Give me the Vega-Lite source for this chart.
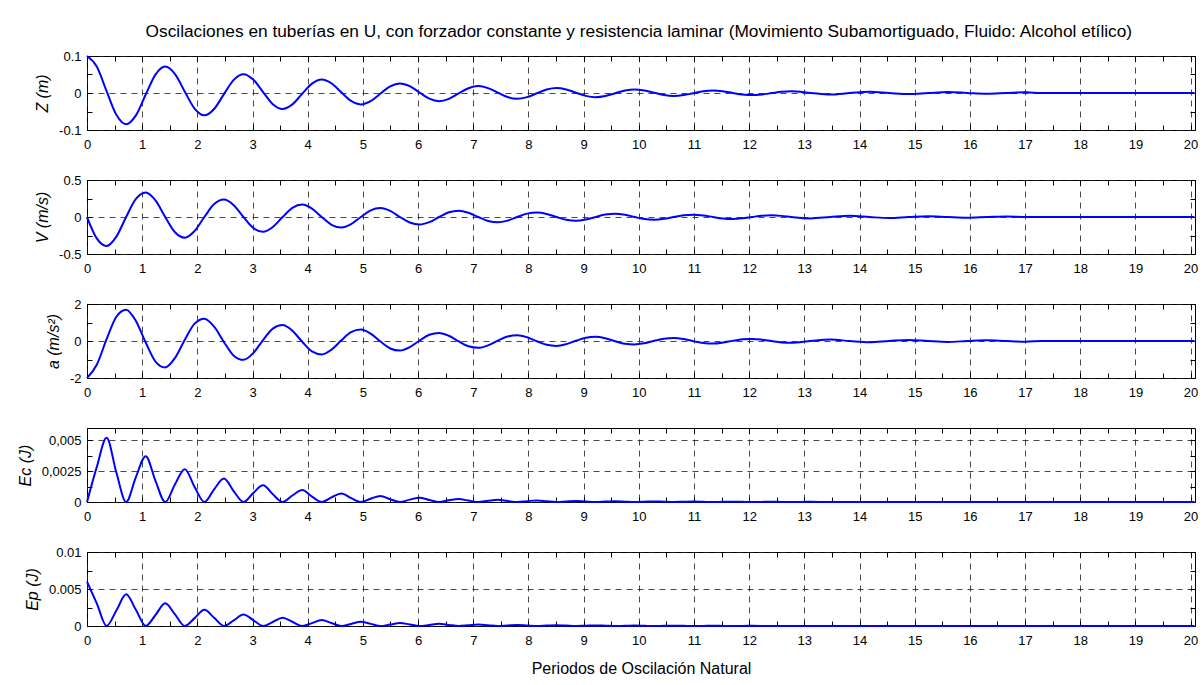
{
  "$schema": "https://vega.github.io/schema/vega-lite/v6.json",
  "background": "white",
  "padding": {"left": 16, "top": 23, "right": 0, "bottom": 0},
  "title": {
    "text": "Oscilaciones en tuberías en U, con forzador constante y resistencia laminar (Movimiento Subamortiguado, Fluido: Alcohol etílico)",
    "font": "Liberation Sans",
    "fontSize": 17.3,
    "fontWeight": "normal",
    "color": "black",
    "anchor": "middle",
    "baseline": "alphabetic",
    "offset": -5,
    "dx": 31
  },
  "data": {
    "values": [
      {"t": 0, "Z": 0.1, "V": 0, "a": -2, "Ec": 0, "Ep": 0.006},
      {"t": 0.177, "Z": 0.0714, "V": -0.2887, "a": -1.283, "Ec": 0.002833, "Ep": 0.003061},
      {"t": 0.355, "Z": 0.0049, "V": -0.3914, "a": 0.099, "Ec": 0.005209, "Ep": 0.000015},
      {"t": 0.532, "Z": -0.059, "V": -0.2654, "a": 1.313, "Ec": 0.002394, "Ep": 0.002087},
      {"t": 0.709, "Z": -0.0845, "V": 0, "a": 1.69, "Ec": 0, "Ep": 0.004284},
      {"t": 0.886, "Z": -0.0604, "V": 0.2439, "a": 1.084, "Ec": 0.002023, "Ep": 0.002186},
      {"t": 1.064, "Z": -0.0042, "V": 0.3307, "a": -0.083, "Ec": 0.003719, "Ep": 0.00001},
      {"t": 1.241, "Z": 0.0498, "V": 0.2242, "a": -1.11, "Ec": 0.001709, "Ep": 0.00149},
      {"t": 1.418, "Z": 0.0714, "V": 0, "a": -1.428, "Ec": 0, "Ep": 0.003059},
      {"t": 1.595, "Z": 0.051, "V": -0.2061, "a": -0.916, "Ec": 0.001444, "Ep": 0.001561},
      {"t": 1.773, "Z": 0.0035, "V": -0.2795, "a": 0.07, "Ec": 0.002656, "Ep": 0.000007},
      {"t": 1.95, "Z": -0.0421, "V": -0.1895, "a": 0.938, "Ec": 0.001221, "Ep": 0.001064},
      {"t": 2.127, "Z": -0.0603, "V": 0, "a": 1.207, "Ec": 0, "Ep": 0.002184},
      {"t": 2.304, "Z": -0.0431, "V": 0.1742, "a": 0.774, "Ec": 0.001031, "Ep": 0.001114},
      {"t": 2.482, "Z": -0.003, "V": 0.2362, "a": -0.059, "Ec": 0.001896, "Ep": 0.000005},
      {"t": 2.659, "Z": 0.0356, "V": 0.1601, "a": -0.792, "Ec": 0.000871, "Ep": 0.00076},
      {"t": 2.836, "Z": 0.051, "V": 0, "a": -1.02, "Ec": 0, "Ep": 0.00156},
      {"t": 3.013, "Z": 0.0364, "V": -0.1472, "a": -0.654, "Ec": 0.000736, "Ep": 0.000796},
      {"t": 3.191, "Z": 0.0025, "V": -0.1996, "a": 0.05, "Ec": 0.001354, "Ep": 0.000004},
      {"t": 3.368, "Z": -0.0301, "V": -0.1353, "a": 0.67, "Ec": 0.000622, "Ep": 0.000543},
      {"t": 3.545, "Z": -0.0431, "V": 0, "a": 0.862, "Ec": 0, "Ep": 0.001114},
      {"t": 3.722, "Z": -0.0308, "V": 0.1244, "a": 0.553, "Ec": 0.000526, "Ep": 0.000568},
      {"t": 3.9, "Z": -0.0021, "V": 0.1686, "a": -0.042, "Ec": 0.000967, "Ep": 0.000003},
      {"t": 4.077, "Z": 0.0254, "V": 0.1143, "a": -0.566, "Ec": 0.000444, "Ep": 0.000387},
      {"t": 4.254, "Z": 0.0364, "V": 0, "a": -0.728, "Ec": 0, "Ep": 0.000795},
      {"t": 4.431, "Z": 0.026, "V": -0.1051, "a": -0.467, "Ec": 0.000375, "Ep": 0.000406},
      {"t": 4.609, "Z": 0.0018, "V": -0.1425, "a": 0.036, "Ec": 0.00069, "Ep": 0.000002},
      {"t": 4.786, "Z": -0.0215, "V": -0.0966, "a": 0.478, "Ec": 0.000317, "Ep": 0.000277},
      {"t": 4.963, "Z": -0.0308, "V": 0, "a": 0.615, "Ec": 0, "Ep": 0.000568},
      {"t": 5.14, "Z": -0.022, "V": 0.0888, "a": 0.395, "Ec": 0.000268, "Ep": 0.00029},
      {"t": 5.318, "Z": -0.0015, "V": 0.1204, "a": -0.03, "Ec": 0.000493, "Ep": 0.000001},
      {"t": 5.495, "Z": 0.0181, "V": 0.0816, "a": -0.404, "Ec": 0.000227, "Ep": 0.000198},
      {"t": 5.672, "Z": 0.026, "V": 0, "a": -0.52, "Ec": 0, "Ep": 0.000405},
      {"t": 5.849, "Z": 0.0186, "V": -0.075, "a": -0.334, "Ec": 0.000191, "Ep": 0.000207},
      {"t": 6.027, "Z": 0.0013, "V": -0.1017, "a": 0.026, "Ec": 0.000352, "Ep": 0.000001},
      {"t": 6.204, "Z": -0.0153, "V": -0.069, "a": 0.341, "Ec": 0.000162, "Ep": 0.000141},
      {"t": 6.381, "Z": -0.022, "V": 0, "a": 0.439, "Ec": 0, "Ep": 0.000289},
      {"t": 6.558, "Z": -0.0157, "V": 0.0634, "a": 0.282, "Ec": 0.000137, "Ep": 0.000148},
      {"t": 6.736, "Z": -0.0011, "V": 0.086, "a": -0.022, "Ec": 0.000251, "Ep": 0},
      {"t": 6.913, "Z": 0.013, "V": 0.0583, "a": -0.288, "Ec": 0.000115, "Ep": 0.000101},
      {"t": 7.09, "Z": 0.0186, "V": 0, "a": -0.371, "Ec": 0, "Ep": 0.000207},
      {"t": 7.267, "Z": 0.0133, "V": -0.0536, "a": -0.238, "Ec": 0.000098, "Ep": 0.000105},
      {"t": 7.445, "Z": 0.0009, "V": -0.0726, "a": 0.018, "Ec": 0.000179, "Ep": 0},
      {"t": 7.622, "Z": -0.011, "V": -0.0493, "a": 0.244, "Ec": 0.000082, "Ep": 0.000072},
      {"t": 7.799, "Z": -0.0157, "V": 0, "a": 0.314, "Ec": 0, "Ep": 0.000148},
      {"t": 7.976, "Z": -0.0112, "V": 0.0453, "a": 0.201, "Ec": 0.00007, "Ep": 0.000075},
      {"t": 8.154, "Z": -0.0008, "V": 0.0614, "a": -0.015, "Ec": 0.000128, "Ep": 0},
      {"t": 8.331, "Z": 0.0093, "V": 0.0416, "a": -0.206, "Ec": 0.000059, "Ep": 0.000051},
      {"t": 8.508, "Z": 0.0133, "V": 0, "a": -0.265, "Ec": 0, "Ep": 0.000105},
      {"t": 8.685, "Z": 0.0095, "V": -0.0383, "a": -0.17, "Ec": 0.00005, "Ep": 0.000054},
      {"t": 8.863, "Z": 0.0007, "V": -0.0519, "a": 0.013, "Ec": 0.000091, "Ep": 0},
      {"t": 9.04, "Z": -0.0078, "V": -0.0352, "a": 0.174, "Ec": 0.000042, "Ep": 0.000037},
      {"t": 9.217, "Z": -0.0112, "V": 0, "a": 0.224, "Ec": 0, "Ep": 0.000075},
      {"t": 9.394, "Z": -0.008, "V": 0.0323, "a": 0.144, "Ec": 0.000036, "Ep": 0.000038},
      {"t": 9.572, "Z": -0.0006, "V": 0.0438, "a": -0.011, "Ec": 0.000065, "Ep": 0},
      {"t": 9.749, "Z": 0.0066, "V": 0.0297, "a": -0.147, "Ec": 0.00003, "Ep": 0.000026},
      {"t": 9.926, "Z": 0.0095, "V": 0, "a": -0.189, "Ec": 0, "Ep": 0.000054},
      {"t": 10.103, "Z": 0.0068, "V": -0.0273, "a": -0.121, "Ec": 0.000025, "Ep": 0.000027},
      {"t": 10.281, "Z": 0.0005, "V": -0.037, "a": 0.009, "Ec": 0.000047, "Ep": 0},
      {"t": 10.458, "Z": -0.0056, "V": -0.0251, "a": 0.124, "Ec": 0.000021, "Ep": 0.000019},
      {"t": 10.635, "Z": -0.008, "V": 0, "a": 0.16, "Ec": 0, "Ep": 0.000038},
      {"t": 10.812, "Z": -0.0057, "V": 0.0231, "a": 0.103, "Ec": 0.000018, "Ep": 0.00002},
      {"t": 10.99, "Z": -0.0004, "V": 0.0313, "a": -0.008, "Ec": 0.000033, "Ep": 0},
      {"t": 11.167, "Z": 0.0047, "V": 0.0212, "a": -0.105, "Ec": 0.000015, "Ep": 0.000013},
      {"t": 11.344, "Z": 0.0068, "V": 0, "a": -0.135, "Ec": 0, "Ep": 0.000027},
      {"t": 11.521, "Z": 0.0048, "V": -0.0195, "a": -0.087, "Ec": 0.000013, "Ep": 0.000014},
      {"t": 11.699, "Z": 0.0003, "V": -0.0265, "a": 0.007, "Ec": 0.000024, "Ep": 0},
      {"t": 11.876, "Z": -0.004, "V": -0.0179, "a": 0.089, "Ec": 0.000011, "Ep": 0.00001},
      {"t": 12.053, "Z": -0.0057, "V": 0, "a": 0.114, "Ec": 0, "Ep": 0.00002},
      {"t": 12.23, "Z": -0.0041, "V": 0.0165, "a": 0.073, "Ec": 0.000009, "Ep": 0.00001},
      {"t": 12.408, "Z": -0.0003, "V": 0.0224, "a": -0.006, "Ec": 0.000017, "Ep": 0},
      {"t": 12.585, "Z": 0.0034, "V": 0.0152, "a": -0.075, "Ec": 0.000008, "Ep": 0.000007},
      {"t": 12.762, "Z": 0.0048, "V": 0, "a": -0.096, "Ec": 0, "Ep": 0.000014},
      {"t": 13.117, "Z": 0.0002, "V": -0.0189, "a": 0.005, "Ec": 0.000012, "Ep": 0},
      {"t": 13.471, "Z": -0.0041, "V": 0, "a": 0.082, "Ec": 0, "Ep": 0.00001},
      {"t": 13.826, "Z": -0.0002, "V": 0.016, "a": -0.004, "Ec": 0.000009, "Ep": 0},
      {"t": 14.18, "Z": 0.0034, "V": 0, "a": -0.069, "Ec": 0, "Ep": 0.000007},
      {"t": 14.535, "Z": 0.0002, "V": -0.0135, "a": 0.003, "Ec": 0.000006, "Ep": 0},
      {"t": 14.889, "Z": -0.0029, "V": 0, "a": 0.058, "Ec": 0, "Ep": 0.000005},
      {"t": 15.244, "Z": -0.0001, "V": 0.0114, "a": -0.003, "Ec": 0.000004, "Ep": 0},
      {"t": 15.598, "Z": 0.0025, "V": 0, "a": -0.049, "Ec": 0, "Ep": 0.000004},
      {"t": 15.953, "Z": 0.0001, "V": -0.0096, "a": 0.002, "Ec": 0.000003, "Ep": 0},
      {"t": 16.307, "Z": -0.0021, "V": 0, "a": 0.042, "Ec": 0, "Ep": 0.000003},
      {"t": 16.662, "Z": -0.0001, "V": 0.0081, "a": -0.002, "Ec": 0.000002, "Ep": 0},
      {"t": 17.016, "Z": 0.0018, "V": 0, "a": -0.035, "Ec": 0, "Ep": 0.000002},
      {"t": 17.3, "Z": 0, "V": 0, "a": 0, "Ec": 0, "Ep": 0},
      {"t": 20.07, "Z": 0, "V": 0, "a": 0, "Ec": 0, "Ep": 0}
    ]
  },
  "bounds": "flush",
  "spacing": 50,
  "vconcat": [
    {
      "width": 1108,
      "height": 74,
      "layer": [
        {
          "mark": {"type": "line", "color": "#0000ff", "strokeWidth": 2, "interpolate": "monotone"},
          "encoding": {
            "x": {"field": "t", "type": "quantitative",
              "scale": {"domain": [0, 20.08], "nice": false, "zero": false},
              "axis": {"orient": "bottom", "title": null,
                "values": [0,0.5,1,1.5,2,2.5,3,3.5,4,4.5,5,5.5,6,6.5,7,7.5,8,8.5,9,9.5,10,10.5,11,11.5,12,12.5,13,13.5,14,14.5,15,15.5,16,16.5,17,17.5,18,18.5,19,19.5,20],
                "labelExpr": "datum.value % 1 ? '' : format(datum.value, 'd')",
                "gridOpacity": {"condition": {"test": "datum.value % 1 != 0", "value": 0}, "value": 1}}},
            "y": {"field": "Z", "type": "quantitative",
              "scale": {"domain": [-0.1, 0.1], "nice": false, "zero": false},
              "axis": {"orient": "left", "title": "Z (m)",
                "values": [-0.1, -0.05, 0, 0.05, 0.1],
                "labelExpr": "datum.value == 0.1 ? '0.1' : datum.value == 0 ? '0' : datum.value == -0.1 ? '-0.1' : ''",
                "gridOpacity": {"condition": {"test": "abs(datum.value) == 0.05", "value": 0}, "value": 1}}}
          }
        },
        {
          "mark": {"type": "line", "strokeOpacity": 0},
          "encoding": {
            "x": {"field": "t", "type": "quantitative",
              "axis": {"orient": "top", "title": null,
                "values": [0,0.5,1,1.5,2,2.5,3,3.5,4,4.5,5,5.5,6,6.5,7,7.5,8,8.5,9,9.5,10,10.5,11,11.5,12,12.5,13,13.5,14,14.5,15,15.5,16,16.5,17,17.5,18,18.5,19,19.5,20]}},
            "y": {"field": "Z", "type": "quantitative",
              "axis": {"orient": "right", "title": null, "values": [-0.1, -0.05, 0, 0.05, 0.1]}}
          }
        }
      ],
      "resolve": {"axis": {"x": "independent", "y": "independent"}}
    },
    {
      "width": 1108,
      "height": 74,
      "layer": [
        {
          "mark": {"type": "line", "color": "#0000ff", "strokeWidth": 2, "interpolate": "monotone"},
          "encoding": {
            "x": {"field": "t", "type": "quantitative",
              "scale": {"domain": [0, 20.08], "nice": false, "zero": false},
              "axis": {"orient": "bottom", "title": null,
                "values": [0,0.5,1,1.5,2,2.5,3,3.5,4,4.5,5,5.5,6,6.5,7,7.5,8,8.5,9,9.5,10,10.5,11,11.5,12,12.5,13,13.5,14,14.5,15,15.5,16,16.5,17,17.5,18,18.5,19,19.5,20],
                "labelExpr": "datum.value % 1 ? '' : format(datum.value, 'd')",
                "gridOpacity": {"condition": {"test": "datum.value % 1 != 0", "value": 0}, "value": 1}}},
            "y": {"field": "V", "type": "quantitative",
              "scale": {"domain": [-0.5, 0.5], "nice": false, "zero": false},
              "axis": {"orient": "left", "title": "V (m/s)",
                "values": [-0.5, -0.25, 0, 0.25, 0.5],
                "labelExpr": "datum.value == 0.5 ? '0.5' : datum.value == 0 ? '0' : datum.value == -0.5 ? '-0.5' : ''",
                "gridOpacity": {"condition": {"test": "abs(datum.value) == 0.25", "value": 0}, "value": 1}}}
          }
        },
        {
          "mark": {"type": "line", "strokeOpacity": 0},
          "encoding": {
            "x": {"field": "t", "type": "quantitative",
              "axis": {"orient": "top", "title": null,
                "values": [0,0.5,1,1.5,2,2.5,3,3.5,4,4.5,5,5.5,6,6.5,7,7.5,8,8.5,9,9.5,10,10.5,11,11.5,12,12.5,13,13.5,14,14.5,15,15.5,16,16.5,17,17.5,18,18.5,19,19.5,20]}},
            "y": {"field": "V", "type": "quantitative",
              "axis": {"orient": "right", "title": null, "values": [-0.5, -0.25, 0, 0.25, 0.5]}}
          }
        }
      ],
      "resolve": {"axis": {"x": "independent", "y": "independent"}}
    },
    {
      "width": 1108,
      "height": 74,
      "layer": [
        {
          "mark": {"type": "line", "color": "#0000ff", "strokeWidth": 2, "interpolate": "monotone"},
          "encoding": {
            "x": {"field": "t", "type": "quantitative",
              "scale": {"domain": [0, 20.08], "nice": false, "zero": false},
              "axis": {"orient": "bottom", "title": null,
                "values": [0,0.5,1,1.5,2,2.5,3,3.5,4,4.5,5,5.5,6,6.5,7,7.5,8,8.5,9,9.5,10,10.5,11,11.5,12,12.5,13,13.5,14,14.5,15,15.5,16,16.5,17,17.5,18,18.5,19,19.5,20],
                "labelExpr": "datum.value % 1 ? '' : format(datum.value, 'd')",
                "gridOpacity": {"condition": {"test": "datum.value % 1 != 0", "value": 0}, "value": 1}}},
            "y": {"field": "a", "type": "quantitative",
              "scale": {"domain": [-2, 2], "nice": false, "zero": false},
              "axis": {"orient": "left", "title": "a (m/s²)",
                "values": [-2, -1, 0, 1, 2],
                "labelExpr": "datum.value == 2 ? '2' : datum.value == 0 ? '0' : datum.value == -2 ? '-2' : ''",
                "gridOpacity": {"condition": {"test": "abs(datum.value) == 1", "value": 0}, "value": 1}}}
          }
        },
        {
          "mark": {"type": "line", "strokeOpacity": 0},
          "encoding": {
            "x": {"field": "t", "type": "quantitative",
              "axis": {"orient": "top", "title": null,
                "values": [0,0.5,1,1.5,2,2.5,3,3.5,4,4.5,5,5.5,6,6.5,7,7.5,8,8.5,9,9.5,10,10.5,11,11.5,12,12.5,13,13.5,14,14.5,15,15.5,16,16.5,17,17.5,18,18.5,19,19.5,20]}},
            "y": {"field": "a", "type": "quantitative",
              "axis": {"orient": "right", "title": null, "values": [-2, -1, 0, 1, 2]}}
          }
        }
      ],
      "resolve": {"axis": {"x": "independent", "y": "independent"}}
    },
    {
      "width": 1108,
      "height": 74,
      "layer": [
        {
          "mark": {"type": "line", "color": "#0000ff", "strokeWidth": 2, "interpolate": "monotone"},
          "encoding": {
            "x": {"field": "t", "type": "quantitative",
              "scale": {"domain": [0, 20.08], "nice": false, "zero": false},
              "axis": {"orient": "bottom", "title": null,
                "values": [0,0.5,1,1.5,2,2.5,3,3.5,4,4.5,5,5.5,6,6.5,7,7.5,8,8.5,9,9.5,10,10.5,11,11.5,12,12.5,13,13.5,14,14.5,15,15.5,16,16.5,17,17.5,18,18.5,19,19.5,20],
                "labelExpr": "datum.value % 1 ? '' : format(datum.value, 'd')",
                "gridOpacity": {"condition": {"test": "datum.value % 1 != 0", "value": 0}, "value": 1}}},
            "y": {"field": "Ec", "type": "quantitative",
              "scale": {"domain": [0, 0.006], "nice": false, "zero": false},
              "axis": {"orient": "left", "title": "Ec (J)",
                "values": [0, 0.00125, 0.0025, 0.00375, 0.005],
                "labelExpr": "datum.value == 0.005 ? '0,005' : datum.value == 0.0025 ? '0,0025' : datum.value == 0 ? '0' : ''",
                "gridOpacity": {"condition": {"test": "datum.value == 0.00125 || datum.value == 0.00375", "value": 0}, "value": 1}}}
          }
        },
        {
          "mark": {"type": "line", "strokeOpacity": 0},
          "encoding": {
            "x": {"field": "t", "type": "quantitative",
              "axis": {"orient": "top", "title": null,
                "values": [0,0.5,1,1.5,2,2.5,3,3.5,4,4.5,5,5.5,6,6.5,7,7.5,8,8.5,9,9.5,10,10.5,11,11.5,12,12.5,13,13.5,14,14.5,15,15.5,16,16.5,17,17.5,18,18.5,19,19.5,20]}},
            "y": {"field": "Ec", "type": "quantitative",
              "axis": {"orient": "right", "title": null, "values": [0, 0.00125, 0.0025, 0.00375, 0.005]}}
          }
        }
      ],
      "resolve": {"axis": {"x": "independent", "y": "independent"}}
    },
    {
      "width": 1108,
      "height": 74,
      "layer": [
        {
          "mark": {"type": "line", "color": "#0000ff", "strokeWidth": 2, "interpolate": "monotone"},
          "encoding": {
            "x": {"field": "t", "type": "quantitative",
              "scale": {"domain": [0, 20.08], "nice": false, "zero": false},
              "axis": {"orient": "bottom", "title": "Periodos de Oscilación Natural",
                "values": [0,0.5,1,1.5,2,2.5,3,3.5,4,4.5,5,5.5,6,6.5,7,7.5,8,8.5,9,9.5,10,10.5,11,11.5,12,12.5,13,13.5,14,14.5,15,15.5,16,16.5,17,17.5,18,18.5,19,19.5,20],
                "labelExpr": "datum.value % 1 ? '' : format(datum.value, 'd')",
                "gridOpacity": {"condition": {"test": "datum.value % 1 != 0", "value": 0}, "value": 1}}},
            "y": {"field": "Ep", "type": "quantitative",
              "scale": {"domain": [0, 0.01], "nice": false, "zero": false},
              "axis": {"orient": "left", "title": "Ep (J)",
                "values": [0, 0.0025, 0.005, 0.0075, 0.01],
                "labelExpr": "datum.value == 0.01 ? '0.01' : datum.value == 0.005 ? '0.005' : datum.value == 0 ? '0' : ''",
                "gridOpacity": {"condition": {"test": "datum.value == 0.0025 || datum.value == 0.0075", "value": 0}, "value": 1}}}
          }
        },
        {
          "mark": {"type": "line", "strokeOpacity": 0},
          "encoding": {
            "x": {"field": "t", "type": "quantitative",
              "axis": {"orient": "top", "title": null,
                "values": [0,0.5,1,1.5,2,2.5,3,3.5,4,4.5,5,5.5,6,6.5,7,7.5,8,8.5,9,9.5,10,10.5,11,11.5,12,12.5,13,13.5,14,14.5,15,15.5,16,16.5,17,17.5,18,18.5,19,19.5,20]}},
            "y": {"field": "Ep", "type": "quantitative",
              "axis": {"orient": "right", "title": null, "values": [0, 0.0025, 0.005, 0.0075, 0.01]}}
          }
        }
      ],
      "resolve": {"axis": {"x": "independent", "y": "independent"}}
    }
  ],
  "config": {
    "font": "Liberation Sans",
    "view": {"stroke": "black", "strokeWidth": 1, "fill": "white"},
    "axis": {
      "domain": false,
      "ticks": true,
      "tickColor": "black",
      "tickWidth": 1,
      "tickSize": -5,
      "labelFont": "Liberation Sans",
      "labelFontSize": 13,
      "labelColor": "black",
      "labelFlush": false,
      "labelOverlap": false,
      "labelBound": false,
      "titleFont": "Liberation Sans",
      "titleFontSize": 16,
      "titleFontWeight": "normal",
      "titleColor": "black",
      "gridColor": "#1a1a1a",
      "gridDash": [6, 5],
      "gridWidth": 0.8
    },
    "axisBottom": {"grid": true, "labelPadding": 13, "titlePadding": 13},
    "axisLeft": {"grid": true, "labelPadding": 11, "titlePadding": 8, "titleFontStyle": "italic"},
    "axisTop": {"grid": false, "labels": false},
    "axisRight": {"grid": false, "labels": false}
  }
}
